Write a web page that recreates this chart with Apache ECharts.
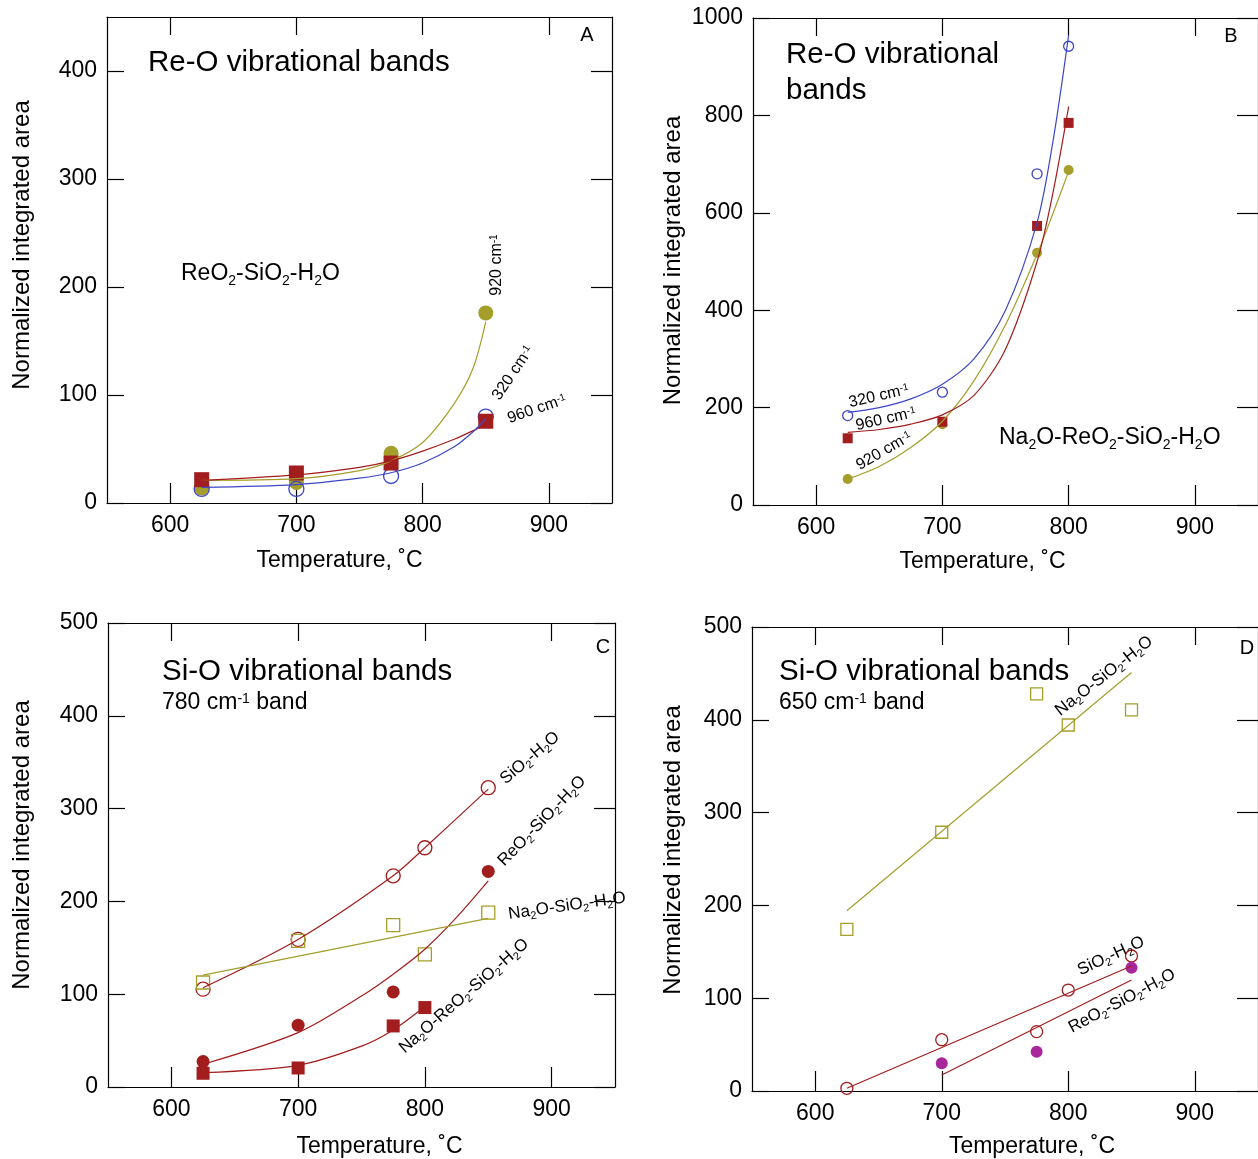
<!DOCTYPE html>
<html><head><meta charset="utf-8">
<script src="https://cdn.jsdelivr.net/npm/echarts@6/dist/echarts.min.js"></script>
<style>html,body{margin:0;padding:0;background:#fff}#c{width:1258px;height:1159px}</style>
</head><body><div id="c"></div>
<script>
const FONT = "'Liberation Sans', Arial, Helvetica, sans-serif";
const OLIVE = '#a59e2a', RED = '#a21d1d', BLUE = '#3d47c6', PURPLE = '#a8289c';

// ---- tick labels ----
const xTicks = [600, 700, 800, 900];
const yTicksA = [0, 100, 200, 300, 400];
const yTicksB = [0, 200, 400, 600, 800, 1000];
const yTicksCD = [0, 100, 200, 300, 400, 500];

// ---- Panel A : ReO2-SiO2-H2O, Re-O bands ----
const tempA = [625, 700, 775, 850];
const a320 = [13, 13, 25, 80];
const a920 = [14, 19, 46, 176];
const a960 = [21.6, 27.8, 37, 75.7];
const fitTempA = [625, 700, 750, 775, 800, 825, 840, 850];
const fitA320 = [14.5, 17, 23, 28, 37, 52, 66, 78];
const fitA920 = [21, 22.5, 30, 39, 56, 92, 125, 168];
const fitA960 = [21, 26, 33, 39, 48, 59, 67, 73];

// ---- Panel B : Na2O-ReO2-SiO2-H2O, Re-O bands ----
const tempB = [625, 700, 775, 800];
const b320 = [183.6, 231.6, 680, 942];
const b960 = [137, 171, 573, 784.6];
const b920 = [53.4, 166, 518, 688];
const fitTempB = [625, 650, 675, 700, 725, 750, 775, 787.5, 800];
const fitB320 = [190, 200, 218, 248, 300, 400, 580, 745, 965];
const fitB960 = [149, 155, 166, 185, 225, 320, 500, 640, 818];
const fitB920 = [53, 79, 118, 172, 255, 370, 515, 598, 685];

// ---- Panel C : Si-O 780 cm-1 band ----
const tempC = [625, 700, 775, 800, 850];
const cSiO2 = [105.4, 159, 227.6, 257.8, 322.5];
const tempCRe = [625, 700, 775, 850];
const cReO2 = [27.4, 66.6, 102.5, 232.3];
const cNaSi = [112.6, 157.5, 174.4, 143, 188];
const tempCNaRe = [625, 700, 775, 800];
const cNaRe = [14.8, 20.5, 65.8, 85.6];
const fitTempCSi = [625, 700, 775, 800, 850];
const fitCSiO2 = [107, 159, 227.6, 257.8, 321];
const fitTempCRe = [625, 700, 750, 775, 800, 825, 850];
const fitCReO2 = [24.5, 58.6, 98, 121.6, 148.5, 182.7, 222];
const fitTempCNaSi = [625, 850];
const fitCNaSi = [120.5, 181.7];
const fitTempCNaRe = [625, 700, 750, 775, 800];
const fitCNaRe = [15.5, 23.4, 44, 61.5, 86.7];

// ---- Panel D : Si-O 650 cm-1 band ----
const tempD = [625, 700, 775, 800, 850];
const dNaSi = [174.2, 278.8, 428, 394.4, 410.6];
const dSiO2 = [2.9, 55.3, 64, 108.8, 145.5];
const tempDRe = [700, 775, 850];
const dReO2 = [29.8, 42.4, 132.9];
const fitTempDNaSi = [625, 850];
const fitDNaSi = [194.3, 451];
const fitTempDSi = [625, 850];
const fitDSiO2 = [2.9, 134.7];
const fitTempDRe = [700, 850];
const fitDReO2 = [17.2, 119.6];

const pairs = (xs, ys) => xs.map((x, i) => [x, ys[i]]);

// grids (pixel layout)
const grids = [
  {left: 107, top: 17, width: 505, height: 486},
  {left: 753, top: 18, width: 508, height: 487},
  {left: 108, top: 623, width: 507, height: 465},
  {left: 752, top: 627, width: 514, height: 464}
];
const yCfg = [
  {max: 450, ticks: yTicksA, gap: 73, pad: [0, 0, 0, 30]},
  {max: 1000, ticks: yTicksB, gap: 68, pad: [0, 0, 0, 2]},
  {max: 500, ticks: yTicksCD, gap: 74, pad: [0, 0, 0, 20]},
  {max: 500, ticks: yTicksCD, gap: 67, pad: [0, 0, 0, 18]}
];
const xNamePad = [[0, 40, 0, 0], [0, 46, 0, 0], [0, 0, 0, 36], [0, 0, 0, 54]];
const xNameGap = [46, 45, 48, 44];

const axLine = {show: true, onZero: false, lineStyle: {color: '#000', width: 1.2}};
const xAxis = [], yAxis = [];
grids.forEach((g, i) => {
  xAxis.push({
    type: 'value', gridIndex: i, min: 550, max: 950, position: 'bottom',
    axisLine: axLine, splitLine: {show: false},
    axisTick: {inside: true, length: 20, lineStyle: {color: '#000', width: 1.2}, customValues: xTicks},
    axisLabel: {customValues: xTicks, fontSize: 23, color: '#000', fontFamily: FONT, margin: 11},
    name: 'Temperature, \u02DAC', nameLocation: 'middle', nameGap: xNameGap[i],
    nameTextStyle: {fontSize: 23, color: '#000', fontFamily: FONT, padding: xNamePad[i]}
  });
  xAxis.push({
    type: 'value', gridIndex: i, min: 550, max: 950, position: 'top',
    axisLine: axLine, splitLine: {show: false},
    axisTick: {inside: true, length: 18, lineStyle: {color: '#000', width: 1.2}, customValues: xTicks},
    axisLabel: {show: false}
  });
  const yc = yCfg[i];
  yAxis.push({
    type: 'value', gridIndex: i, min: 0, max: yc.max, position: 'left',
    axisLine: axLine, splitLine: {show: false},
    axisTick: {inside: true, length: 17, lineStyle: {color: '#000', width: 1.2}, customValues: yc.ticks},
    axisLabel: {customValues: yc.ticks, fontSize: 23, color: '#000', fontFamily: FONT, margin: 10,
                formatter: v => String(v)},
    name: 'Normalized integrated area', nameLocation: 'middle', nameGap: yc.gap,
    nameTextStyle: {fontSize: 24, color: '#000', fontFamily: FONT, padding: yc.pad}
  });
  yAxis.push({
    type: 'value', gridIndex: i, min: 0, max: yc.max, position: 'right',
    axisLine: axLine, splitLine: {show: false},
    axisTick: {inside: true, length: 21, lineStyle: {color: '#000', width: 1.2}, customValues: yc.ticks},
    axisLabel: {show: false}
  });
});

function scat(gi, xs, ys, symbol, size, color, filled, z) {
  return {
    type: 'scatter', xAxisIndex: gi * 2, yAxisIndex: gi * 2, data: pairs(xs, ys),
    symbol: symbol, symbolSize: size, z: z || 2, silent: true,
    itemStyle: filled ? {color: color, opacity: 1}
                      : {color: 'rgba(0,0,0,0)', borderColor: color, borderWidth: 1.3, opacity: 1}
  };
}
function fit(gi, xs, ys, color, smooth) {
  return {
    type: 'line', xAxisIndex: gi * 2, yAxisIndex: gi * 2, data: pairs(xs, ys),
    smooth: smooth === undefined ? 0.3 : smooth,
    symbol: 'none', z: 5, silent: true,
    lineStyle: {color: color, width: 1.2}
  };
}

const series = [
  // A
  scat(0, tempA, a920, 'circle', 15, OLIVE, true, 2),
  scat(0, tempA, a320, 'circle', 15, BLUE, false, 3),
  scat(0, tempA, a960, 'rect', 15, RED, true, 4),
  fit(0, fitTempA, fitA920, OLIVE),
  fit(0, fitTempA, fitA960, RED),
  fit(0, fitTempA, fitA320, BLUE),
  // B
  scat(1, tempB, b920, 'circle', 10, OLIVE, true, 2),
  scat(1, tempB, b320, 'circle', 10, BLUE, false, 3),
  scat(1, tempB, b960, 'rect', 10, RED, true, 4),
  fit(1, fitTempB, fitB920, OLIVE),
  fit(1, fitTempB, fitB960, RED),
  fit(1, fitTempB, fitB320, BLUE),
  // C
  scat(2, tempC, cSiO2, 'circle', 14, RED, false, 3),
  scat(2, tempCRe, cReO2, 'circle', 13, RED, true, 3),
  scat(2, tempC, cNaSi, 'rect', 13, OLIVE, false, 3),
  scat(2, tempCNaRe, cNaRe, 'rect', 13, RED, true, 3),
  fit(2, fitTempCSi, fitCSiO2, RED),
  fit(2, fitTempCRe, fitCReO2, RED),
  fit(2, fitTempCNaSi, fitCNaSi, OLIVE, false),
  fit(2, fitTempCNaRe, fitCNaRe, RED),
  // D
  scat(3, tempD, dNaSi, 'rect', 12, OLIVE, false, 3),
  scat(3, tempD, dSiO2, 'circle', 12, RED, false, 3),
  scat(3, tempDRe, dReO2, 'circle', 12, PURPLE, true, 4),
  fit(3, fitTempDNaSi, fitDNaSi, OLIVE, false),
  fit(3, fitTempDSi, fitDSiO2, RED, false),
  fit(3, fitTempDRe, fitDReO2, RED, false)
];

// rich text with _{sub} and ^{sup}
function richText(str) {
  const parts = str.split(/(_\{[^}]*\}|\^\{[^}]*\}|\n)/);
  return parts.filter(p => p !== '').map(p => {
    if (p === '\n') return '\n';
    if (p[0] === '_') return '{b|' + p.slice(2, -1) + '}';
    if (p[0] === '^') return '{p|' + p.slice(2, -1) + '}';
    return '{n|' + p + '}';
  }).join('');
}
function txt(str, x, y, size, rotDeg, align, lh) {
  const L = lh || size;
  return {
    type: 'text', x: x, y: y, rotation: (rotDeg || 0) * Math.PI / 180, z: 100, silent: true,
    style: {
      text: richText(str), align: align || 'left', verticalAlign: 'middle',
      fill: '#000', fontFamily: FONT, fontSize: size,
      rich: {
        n: {fontSize: size, lineHeight: L, fontFamily: FONT, fill: '#000'},
        b: {fontSize: Math.round(size * 0.62), height: size * 0.4, lineHeight: size * 0.4, verticalAlign: 'bottom', fontFamily: FONT, fill: '#000'},
        p: {fontSize: Math.round(size * 0.62), height: size * 0.7, lineHeight: size * 0.7, verticalAlign: 'top', fontFamily: FONT, fill: '#000'}
      }
    }
  };
}

const graphics = [
  // A
  txt('Re-O vibrational bands', 148, 63, 29.5),
  txt('A', 587, 35, 20, 0, 'center'),
  txt('ReO_{2}-SiO_{2}-H_{2}O', 181, 274, 23),
  txt('920 cm^{-1}', 497, 265, 16, 90, 'center'),
  txt('320 cm^{-1}', 513, 373, 16, 56, 'center'),
  txt('960 cm^{-1}', 537, 409, 16, 19, 'center'),
  // B
  txt('Re-O vibrational\nbands', 786, 73, 29.5, 0, 'left', 36),
  txt('B', 1231, 36, 20, 0, 'center'),
  txt('Na_{2}O-ReO_{2}-SiO_{2}-H_{2}O', 999, 438, 23),
  txt('320 cm^{-1}', 879, 396, 16, 13, 'center'),
  txt('960 cm^{-1}', 886, 419, 16, 13, 'center'),
  txt('920 cm^{-1}', 884, 451, 16, 30, 'center'),
  // C
  txt('Si-O vibrational bands', 162, 672, 29.5),
  txt('780 cm^{-1} band', 162, 703, 23),
  txt('C', 603, 647, 20, 0, 'center'),
  txt('SiO_{2}-H_{2}O', 530, 758, 17, 40, 'center'),
  txt('ReO_{2}-SiO_{2}-H_{2}O', 542, 821, 17, 46, 'center'),
  txt('Na_{2}O-SiO_{2}-H_{2}O', 567, 906, 17, 8, 'center'),
  txt('Na_{2}O-ReO_{2}-SiO_{2}-H_{2}O', 464, 996, 17, 41, 'center'),
  // D
  txt('Si-O vibrational bands', 779, 672, 29.5),
  txt('650 cm^{-1} band', 779, 703, 23),
  txt('D', 1247, 648, 20, 0, 'center'),
  txt('Na_{2}O-SiO_{2}-H_{2}O', 1104, 676, 17, 38, 'center'),
  txt('SiO_{2}-H_{2}O', 1111, 956, 17, 25, 'center'),
  txt('ReO_{2}-SiO_{2}-H_{2}O', 1122, 1001, 17, 28, 'center')
];

const chart = echarts.init(document.getElementById('c'), null, {renderer: 'canvas'});
chart.setOption({
  animation: false,
  backgroundColor: '#fff',
  textStyle: {fontFamily: FONT},
  grid: grids,
  xAxis: xAxis,
  yAxis: yAxis,
  series: series,
  graphic: graphics
});
</script></body></html>
